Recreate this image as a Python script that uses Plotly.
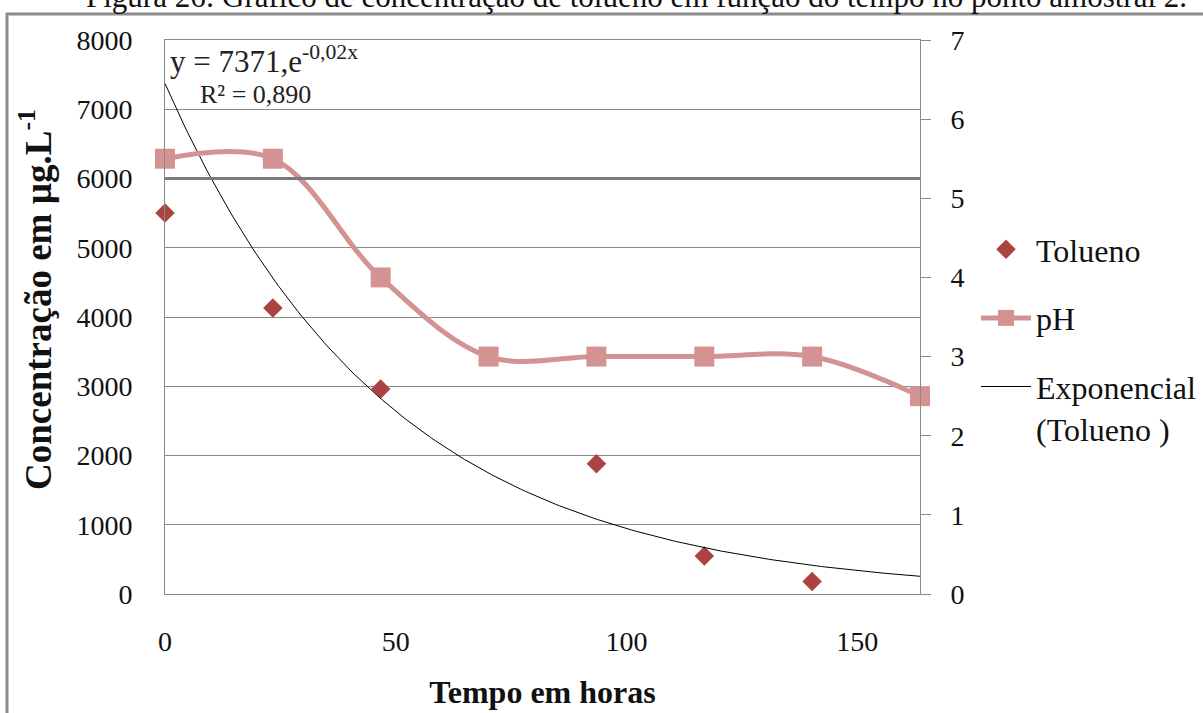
import numpy as np
import plotly.graph_objects as go

# ---- data ----
horas = [0, 24, 48, 72, 96, 120, 144, 168]
tolueno_x = [0, 24, 48, 96, 120, 144]
tolueno_y = [5500, 4130, 2960, 1880, 550, 180]
ph_y = [5.5, 5.5, 4.0, 3.0, 3.0, 3.0, 3.0, 2.5]
fit_a = 7371
fit_b = -0.02
x_ticks = [0, 50, 100, 150]
y_left_ticks = [0, 1000, 2000, 3000, 4000, 5000, 6000, 7000, 8000]
y_right_ticks = [0, 1, 2, 3, 4, 5, 6, 7]

W, H = 1203, 713
L, R, T, B = 165, 920, 40, 594


def px(xp):
    return (xp - L) / (R - L)


def py(yp):
    return (B - yp) / (B - T)


FONT = "Liberation Serif"
fit_x = np.linspace(0, 168, 200)
fit_y = fit_a * np.exp(fit_b * fit_x)

fig = go.Figure()
fig.add_trace(go.Scatter(
    x=tolueno_x, y=tolueno_y, mode="markers", name="Tolueno",
    marker=dict(symbol="diamond", size=15, color="#AB4340"),
    legendgroup="a", xaxis="x", yaxis="y", cliponaxis=False))
fig.add_trace(go.Scatter(
    x=horas, y=ph_y, mode="lines+markers", name="pH",
    line=dict(color="#D49393", width=5, shape="spline", smoothing=1.0),
    marker=dict(symbol="square", size=20, color="#D49393"),
    legendgroup="b", xaxis="x", yaxis="y2", cliponaxis=False))
fig.add_trace(go.Scatter(
    x=fit_x, y=fit_y, mode="lines", name="Exponencial<br>(Tolueno )",
    line=dict(color="black", width=1),
    legendgroup="c", xaxis="x", yaxis="y"))
# helper trace anchoring the labelled x axis
fig.add_trace(go.Scatter(x=[0], y=[None], xaxis="x2", yaxis="y",
                         showlegend=False, hoverinfo="skip"))

tick_font = dict(family=FONT, size=28, color="#111")
fig.update_layout(
    width=W, height=H,
    margin=dict(l=L, r=W - R, t=T, b=H - B, pad=0, autoexpand=False),
    paper_bgcolor="white", plot_bgcolor="white",
    showlegend=True,
    legend=dict(x=px(976), y=py(222), xanchor="left", yanchor="top",
                font=dict(family=FONT, size=32, color="#111"),
                tracegroupgap=24, itemwidth=50, valign="top",
                bgcolor="rgba(0,0,0,0)"),
    xaxis=dict(range=[0, 168], showticklabels=False, showgrid=False,
               zeroline=False, showline=True, linecolor="#8a8a8a",
               linewidth=1, mirror=True, ticks=""),
    xaxis2=dict(range=[0, 163.6], overlaying="x", anchor="y", side="bottom",
                tickvals=x_ticks, showgrid=False, zeroline=False,
                showline=False, ticks="", tickfont=tick_font,
                ticklabelstandoff=28,
                title=dict(text="<b>Tempo em horas</b>",
                           font=dict(family=FONT, size=32, color="#111"),
                           standoff=24)),
    yaxis=dict(range=[0, 8000], tickvals=y_left_ticks, showgrid=True,
               gridcolor="#8a8a8a", gridwidth=1, zeroline=False,
               showline=True, linecolor="#8a8a8a", ticks="",
               tickfont=tick_font, ticklabelstandoff=26),
    yaxis2=dict(range=[0, 7], tickvals=y_right_ticks, overlaying="y",
                side="right", showgrid=False, zeroline=False, showline=True,
                linecolor="#8a8a8a", ticks="outside", ticklen=10,
                tickcolor="#8a8a8a", tickfont=tick_font,
                ticklabelstandoff=14),
)

# darker 6000 gridline
fig.add_shape(type="line", xref="paper", yref="y", x0=0, x1=1, y0=6000, y1=6000,
              line=dict(color="#7a7a7a", width=3))
# outer frame
fig.add_shape(type="rect", xref="paper", yref="paper",
              x0=px(7), x1=px(1230), y0=py(14), y1=py(760),
              line=dict(color="#8c8c8c", width=3), layer="below")

# y-axis title
fig.add_annotation(text="<b>Concentração em µg.L<sup>-1</sup></b>",
                   xref="paper", yref="paper", x=px(35), y=py(300),
                   xanchor="center", yanchor="middle", textangle=-90,
                   showarrow=False, font=dict(family=FONT, size=37, color="#111"))
# title (partly cut off)
fig.add_annotation(
    text="Figura 26: Gráfico de concentração de tolueno em função do tempo no ponto amostral 2.",
    xref="paper", yref="paper", x=px(84), y=py(16), xanchor="left", yanchor="bottom",
    showarrow=False, font=dict(family=FONT, size=31, color="#111"))
# equation
fig.add_annotation(text="y = 7371,e<sup>-0,02x</sup>", xref="paper", yref="paper",
                   x=px(168), y=py(60), xanchor="left", yanchor="middle",
                   showarrow=False, font=dict(family=FONT, size=31, color="#222"))
fig.add_annotation(text="R² = 0,890", xref="paper", yref="paper",
                   x=px(198), y=py(95), xanchor="left", yanchor="middle",
                   showarrow=False, font=dict(family=FONT, size=26, color="#222"))

fig.write_html("out.html")
